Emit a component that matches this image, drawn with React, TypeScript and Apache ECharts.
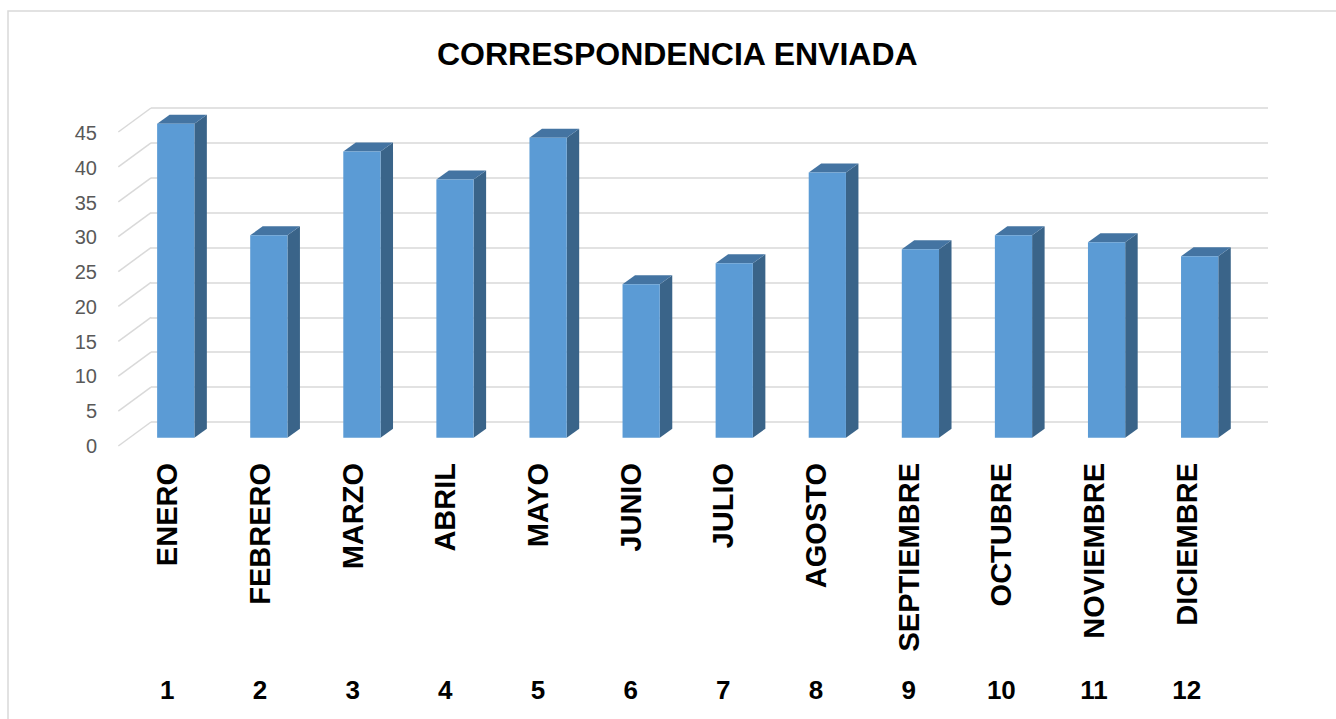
import React, { useEffect, useRef } from "react";
import * as echarts from "echarts";

const months = [
  "ENERO", "FEBRERO", "MARZO", "ABRIL", "MAYO", "JUNIO",
  "JULIO", "AGOSTO", "SEPTIEMBRE", "OCTUBRE", "NOVIEMBRE", "DICIEMBRE",
];
const monthNumbers = ["1", "2", "3", "4", "5", "6", "7", "8", "9", "10", "11", "12"];
const values = [45, 29, 41, 37, 43, 22, 25, 38, 27, 29, 28, 26];
const yTicks = [0, 5, 10, 15, 20, 25, 30, 35, 40, 45];

const FONT = "'Liberation Sans', Arial, sans-serif";

export default function App() {
  const ref = useRef<HTMLDivElement>(null);
  useEffect(() => {
    if (!ref.current) return;
    const chart = echarts.init(ref.current, null, { renderer: "svg" });
    const wallDX = 32.7;
    const wallDY = 24;
    const option: any = {
      animation: false,
      backgroundColor: "#ffffff",
      title: {
        text: "CORRESPONDENCIA ENVIADA",
        left: 432,
        top: 33,
        textStyle: { fontFamily: FONT, fontSize: 32, fontWeight: "bold", color: "#000000" },
      },
      graphic: [
        {
          type: "rect",
          shape: { x: 8, y: 11, width: 1400, height: 800 },
          style: { fill: "none", stroke: "#d9d9d9", lineWidth: 1.5 },
          silent: true,
        },
      ],
      grid: [
        { left: 151, right: 68, top: 108, bottom: 297 },
        { left: 121, right: 103, top: 133, bottom: 273 },
      ],
      xAxis: [
        {
          gridIndex: 0,
          type: "category",
          data: months,
          axisLine: { show: false },
          axisTick: { show: false },
          axisLabel: { show: false },
        },
        {
          gridIndex: 1,
          type: "category",
          data: months,
          position: "bottom",
          axisLine: { show: false },
          axisTick: { show: false },
          axisLabel: {
            rotate: 90,
            interval: 0,
            fontFamily: FONT,
            fontSize: 29,
            fontWeight: "bold",
            color: "#000000",
            margin: 17,
          },
        },
        {
          gridIndex: 1,
          type: "category",
          data: monthNumbers,
          position: "bottom",
          axisLine: { show: false },
          axisTick: { show: false },
          axisLabel: {
            interval: 0,
            fontFamily: FONT,
            fontSize: 26,
            fontWeight: "bold",
            color: "#000000",
            margin: 231,
          },
        },
      ],
      yAxis: [
        {
          gridIndex: 0,
          type: "value",
          min: 0,
          max: 45,
          interval: 5,
          axisLine: { show: false },
          axisTick: { show: false },
          axisLabel: { show: false },
          splitLine: { lineStyle: { color: "#d9d9d9", width: 1.5 } },
        },
        {
          gridIndex: 1,
          type: "value",
          min: 0,
          max: 45,
          interval: 5,
          axisLine: { show: false },
          axisTick: { show: false },
          splitLine: { show: false },
          axisLabel: { fontFamily: FONT, fontSize: 20, color: "#595959", margin: 24 },
        },
      ],
      series: [
        {
          type: "custom",
          xAxisIndex: 0,
          yAxisIndex: 0,
          silent: true,
          data: yTicks.map((v) => [0, v]),
          renderItem: (params: any, api: any) => {
            const p = api.coord([api.value(0), api.value(1)]);
            const bw = api.size([1, 0])[0];
            const x = p[0] - bw / 2;
            return {
              type: "line",
              shape: { x1: x, y1: p[1], x2: x - wallDX, y2: p[1] + wallDY },
              style: { stroke: "#d9d9d9", lineWidth: 1.5 },
            };
          },
        },
        {
          type: "custom",
          xAxisIndex: 0,
          yAxisIndex: 0,
          data: values.map((v, i) => [i, v]),
          renderItem: (params: any, api: any) => {
            const i = api.value(0);
            const v = api.value(1);
            const top = api.coord([i, v]);
            const bot = api.coord([i, 0]);
            const bw = api.size([1, 0])[0];
            const half = bw * 0.2;
            const sx = -21.8;
            const sy = 15.7;
            const dx = 12.5;
            const dy = -9;
            const xl = top[0] + sx - half;
            const xr = top[0] + sx + half;
            const yt = top[1] + sy;
            const yb = bot[1] + sy;
            return {
              type: "group",
              children: [
                {
                  type: "polygon",
                  shape: { points: [[xr, yt], [xr + dx, yt + dy], [xr + dx, yb + dy], [xr, yb]] },
                  style: { fill: "#3a6489" },
                },
                {
                  type: "polygon",
                  shape: { points: [[xl, yt], [xl + dx, yt + dy], [xr + dx, yt + dy], [xr, yt]] },
                  style: { fill: "#4474a2" },
                },
                {
                  type: "rect",
                  shape: { x: xl, y: yt, width: xr - xl, height: yb - yt },
                  style: { fill: "#5b9bd5" },
                },
              ],
            };
          },
        },
      ],
    };
    chart.setOption(option);
    return () => chart.dispose();
  }, []);
  return (
    <div
      ref={ref}
      style={{ position: "absolute", left: 0, top: 0, width: 1336, height: 719 }}
    />
  );
}
